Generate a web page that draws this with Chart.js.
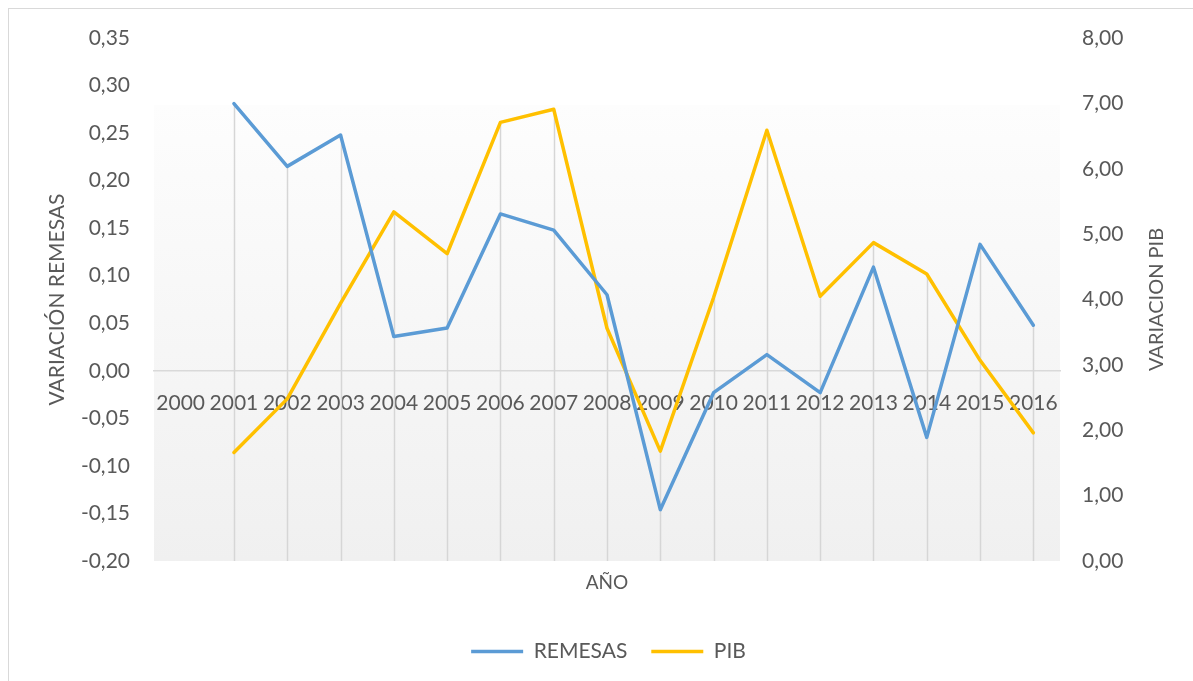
<!DOCTYPE html>
<html>
<head>
<meta charset="utf-8">
<script src="https://cdn.jsdelivr.net/npm/chart.js@4/dist/chart.umd.min.js"></script>
<style>
  html, body { margin: 0; padding: 0; background: #fff; }
  #wrap { position: absolute; left: 0; top: 0; width: 1193px; height: 681px; }
</style>
</head>
<body>
<div id="wrap"><canvas id="c"></canvas></div>
<script>
const years = ['2000','2001','2002','2003','2004','2005','2006','2007','2008','2009','2010','2011','2012','2013','2014','2015','2016'];
const remesas = [null, 0.281, 0.215, 0.248, 0.036, 0.045, 0.165, 0.148, 0.080, -0.146, -0.023, 0.017, -0.023, 0.109, -0.070, 0.133, 0.048];
const pib = [null, 1.66, 2.48, 3.94, 5.34, 4.70, 6.71, 6.91, 3.56, 1.68, 4.03, 6.59, 4.05, 4.87, 4.39, 3.07, 1.96];
const leftRange = { min: -0.20, max: 0.35, step: 0.05 };
const rightRange = { min: 0, max: 8, step: 1 };

const TXT = '#595959';
const FONT = 'Lato';
const fmt = v => Number(v).toFixed(2).replace('.', ',');

const bgPlugin = {
  id: 'bg',
  beforeDraw(chart) {
    const { ctx, chartArea: a } = chart;
    ctx.save();
    ctx.fillStyle = '#fff';
    ctx.fillRect(0, 0, chart.width, chart.height);
    ctx.strokeStyle = '#d9d9d9';
    ctx.lineWidth = 1;
    ctx.strokeRect(8.5, 8.5, chart.width + 20, chart.height + 20);
    const top = a.top + (a.bottom - a.top) * 0.128;
    const g = ctx.createLinearGradient(0, top, 0, a.bottom);
    g.addColorStop(0, '#fdfdfd');
    g.addColorStop(1, '#f0f0f0');
    ctx.fillStyle = g;
    ctx.fillRect(a.left, top, a.right - a.left, a.bottom - top);
    ctx.restore();
  },
  beforeDatasetsDraw(chart) {
    const { ctx, chartArea: a } = chart;
    const metas = chart.data.datasets.map((d, i) => chart.getDatasetMeta(i));
    ctx.save();
    ctx.strokeStyle = '#d6d6d6';
    ctx.lineWidth = 1.5;
    for (let i = 0; i < years.length; i++) {
      let minY = Infinity, x = null;
      metas.forEach((m, di) => {
        const v = chart.data.datasets[di].data[i];
        if (v === null || v === undefined) return;
        const el = m.data[i];
        if (el && el.y < minY) { minY = el.y; x = el.x; }
      });
      if (x === null) continue;
      ctx.beginPath();
      ctx.moveTo(Math.round(x) + 0.5, minY);
      ctx.lineTo(Math.round(x) + 0.5, a.bottom);
      ctx.stroke();
    }
    ctx.restore();
  },
  afterDraw(chart) {
    const { ctx } = chart;
    const s = chart.scales.y1;
    ctx.save();
    ctx.fillStyle = TXT;
    ctx.font = '20px ' + FONT;
    ctx.textAlign = 'center';
    ctx.textBaseline = 'middle';
    ctx.translate(1157, (s.top + s.bottom) / 2);
    ctx.rotate(-Math.PI / 2);
    ctx.fillText('VARIACION PIB', 0, 0);
    ctx.restore();
  }
};

new Chart(document.getElementById('c'), {
  type: 'line',
  data: {
    labels: years,
    datasets: [
      { label: 'REMESAS', data: remesas, yAxisID: 'y', xAxisID: 'x',
        borderColor: '#5b9bd5', backgroundColor: '#5b9bd5', borderWidth: 3.5,
        pointRadius: 0, pointHoverRadius: 0, tension: 0, borderJoinStyle: 'round', borderCapStyle: 'round', spanGaps: false },
      { label: 'PIB', data: pib, yAxisID: 'y1', xAxisID: 'x',
        borderColor: '#ffc000', backgroundColor: '#ffc000', borderWidth: 3.5,
        pointRadius: 0, pointHoverRadius: 0, tension: 0, borderJoinStyle: 'round', borderCapStyle: 'round', spanGaps: false }
    ]
  },
  options: {
    responsive: true,
    maintainAspectRatio: false,
    animation: false,
    layout: { padding: { top: 38, left: 24, right: 0, bottom: 9 } },
    plugins: {
      tooltip: { enabled: false },
      legend: {
        position: 'bottom',
        labels: {
          usePointStyle: true, pointStyle: 'line', pointStyleWidth: 52,
          color: TXT, font: { family: FONT, size: 21 }, padding: 24
        }
      }
    },
    scales: {
      x: {
        type: 'category', position: { y: 0 }, offset: true,
        grid: { display: false, drawTicks: false },
        border: { display: true, color: '#d9d9d9', width: 1.5 },
        ticks: { color: TXT, font: { family: FONT, size: 21 }, padding: 20, maxRotation: 0, autoSkip: false }
      },
      x2: {
        type: 'category', labels: years, position: 'bottom', offset: true,
        grid: { display: false, drawTicks: false },
        border: { display: false },
        ticks: { display: false },
        title: { display: true, text: 'AÑO', color: TXT, font: { family: FONT, size: 19 }, padding: { top: 0, bottom: 23 } },
        afterFit: s => { s.height = 56; }
      },
      y: {
        position: 'left', min: leftRange.min, max: leftRange.max,
        grid: { display: false, drawTicks: false },
        border: { display: false },
        ticks: { stepSize: leftRange.step, color: TXT, font: { family: FONT, size: 21 }, padding: 24,
                 callback: v => fmt(v) },
        title: { display: true, text: 'VARIACIÓN REMESAS', color: TXT, font: { family: FONT, size: 21 }, padding: { top: 21, bottom: 0 } },
        afterFit: s => { s.width = 130; }
      },
      y1: {
        position: 'right', min: rightRange.min, max: rightRange.max,
        grid: { display: false, drawTicks: false },
        border: { display: false },
        ticks: { stepSize: rightRange.step, color: TXT, font: { family: FONT, size: 21 }, padding: 22,
                 callback: v => fmt(v) },
        afterFit: s => { s.width = 133; }
      }
    }
  },
  plugins: [bgPlugin]
});
</script>
</body>
</html>
